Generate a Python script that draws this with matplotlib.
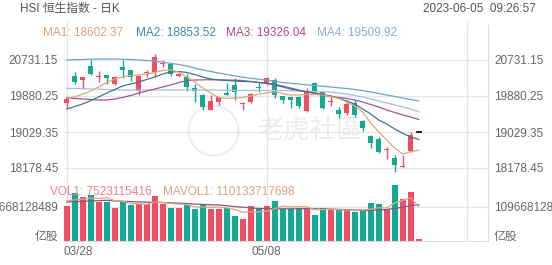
import matplotlib
matplotlib.use('Agg')
import matplotlib.pyplot as plt
import numpy as np

plt.rcParams['font.family'] = ['Liberation Sans', 'Noto Sans CJK SC']

# daily candles, 03/28 .. 06/05 (last one is the pre-open tick)
opens = [19707.7, 20353.0, 20251.3, 20582.2, 20341.1, 20369.5, 20156.8, 20565.7, 20487.7, 20005.5,
         20433.3, 20440.4, 20646.1, 20636.6, 20360.1, 20336.4, 20076.4, 19903.9, 19549.3, 19745.5,
         19958.2, 20140.2, 19700.6, 19731.3, 20081.2, 20156.8, 20258.4, 19887.3, 19863.7, 19863.7,
         19532.8, 20180.4, 19981.9, 19738.4, 19549.3, 19471.3, 19707.7, 19289.3, 18941.9, 18856.8,
         18596.8, 18407.7, 18213.9, 18587.4, 19022.3]
closes = [19809.3, 20218.2, 20322.2, 20407.3, 20353.0, 20298.6, 20329.3, 20501.9, 20336.4, 20345.9,
          20440.4, 20795.0, 20653.1, 20393.1, 20400.2, 20100.1, 20005.5, 19627.3, 19762.1, 19863.7,
          19903.9, 19967.7, 19707.7, 19920.4, 20069.3, 20312.8, 19892.1, 19785.7, 19785.7, 19643.9,
          19981.9, 20005.5, 19589.5, 19745.5, 19454.8, 19684.1, 19431.2, 19116.8, 18762.3, 18563.7,
          18603.9, 18249.4, 18230.4, 18958.4, 19022.3]
highs = [19863.7, 20440.4, 20334.1, 20731.1, 20478.2, 20375.0, 20353.0, 20731.1, 20490.0, 20360.1,
         20494.8, 20873.0, 20731.1, 20640.0, 20416.8, 20393.1, 20156.8, 19920.4, 19903.9, 19868.0,
         20180.4, 20298.6, 19731.3, 19958.2, 20218.2, 20336.4, 20298.6, 19892.0, 19868.0, 19868.0,
         20062.2, 20204.1, 20005.5, 19903.9, 19627.3, 19785.7, 19785.7, 19313.0, 18958.4, 18904.1,
         18681.9, 18485.7, 18485.7, 19022.3, 19022.3]
lows = [19589.5, 20156.8, 20038.6, 20376.6, 20218.2, 20156.8, 20133.1, 20298.6, 20234.8, 19896.8,
        20329.3, 20329.3, 20572.8, 20360.1, 20336.4, 20005.5, 19745.5, 19549.3, 19542.0, 19667.5,
        19896.8, 19785.7, 19549.3, 19724.0, 19981.9, 20140.2, 19840.1, 19707.7, 19589.5, 19589.5,
        19509.2, 19944.1, 19573.0, 19643.9, 19367.3, 19431.2, 19391.0, 19053.0, 18644.1, 18525.9,
        18384.1, 18091.0, 18206.8, 18563.7, 19022.3]
volumes = [112.9e9, 152.5e9, 139.7e9, 147.1e9, 125.7e9, 125.7e9, 106.5e9, 128.9e9, 115.1e9, 118.3e9,
           118.3e9, 143.9e9, 117.3e9, 104.6e9, 106.5e9, 115.1e9, 102.3e9, 117.3e9, 102.3e9, 102.3e9,
           104.6e9, 79.9e9, 69.4e9, 111.9e9, 102.3e9, 112.9e9, 127.9e9, 102.3e9, 102.3e9, 106.5e9,
           106.5e9, 83.1e9, 106.5e9, 102.3e9, 102.3e9, 99.1e9, 91.8e9, 99.1e9, 120.5e9, 117.3e9,
           101.4e9, 179.0e9, 133.3e9, 157.6e9, 7523115416]

# moving averages
ma1 = [19825.9, 19856.6, 19927.5, 19998.4, 20093.0, 20199.3, 20282.1, 20329.3, 20364.8, 20376.6,
       20400.2, 20435.7, 20483.0, 20494.8, 20447.5, 20329.3, 20211.1, 20069.3, 19951.2, 19844.8,
       19825.9, 19833.0, 19844.8, 19880.2, 19920.4, 19951.2, 19981.9, 19939.3, 19903.9, 19903.9,
       19915.7, 19915.7, 19903.9, 19868.4, 19821.2, 19738.4, 19643.9, 19502.1, 19242.1, 19029.3,
       18840.3, 18651.2, 18509.4, 18563.7, 18602.37]
ma2 = [19573.0, 19632.1, 19691.2, 19773.9, 19856.6, 19951.2, 20033.9, 20116.6, 20163.9, 20211.1,
       20270.2, 20329.3, 20400.2, 20447.5, 20459.3, 20435.7, 20388.4, 20329.3, 20282.1, 20258.4,
       20246.6, 20234.8, 20223.0, 20218.2, 20199.3, 20180.4, 20140.2, 20093.0, 20045.7, 20010.2,
       19981.9, 19951.2, 19915.7, 19880.2, 19825.9, 19762.1, 19691.2, 19573.0, 19454.8, 19313.0,
       19218.4, 19100.3, 18998.6, 18911.2, 18853.52]
ma3 = [19840.1, 19821.2, 19809.3, 19797.5, 19785.7, 19785.7, 19809.3, 19844.8, 19892.1, 19951.2,
       19998.4, 20045.7, 20093.0, 20140.2, 20199.3, 20246.6, 20258.0, 20262.0, 20265.0, 20262.0,
       20258.0, 20255.0, 20246.6, 20223.0, 20199.3, 20180.4, 20156.8, 20116.6, 20069.3, 20022.1,
       19974.8, 19939.3, 19903.9, 19868.4, 19844.8, 19821.2, 19785.7, 19738.4, 19679.3, 19620.2,
       19549.3, 19490.2, 19431.2, 19383.9, 19326.04]
ma4 = [20062.2, 20057.5, 20052.8, 20045.7, 20041.0, 20033.9, 20029.2, 20022.1, 20022.1, 20022.1,
       20022.1, 20022.1, 20022.1, 20022.1, 20022.1, 20022.1, 20022.1, 20022.1, 20022.1, 20017.3,
       20015.0, 20010.2, 20010.2, 20010.2, 20010.2, 20010.2, 20010.2, 20010.2, 20005.5, 19998.4,
       19993.7, 19986.6, 19981.9, 19974.8, 19951.2, 19927.5, 19892.1, 19856.6, 19809.3, 19762.1,
       19714.8, 19667.5, 19620.2, 19573.0, 19509.92]
ma5 = [20731.1, 20738.2, 20743.0, 20750.0, 20754.8, 20754.8, 20754.8, 20750.0, 20743.0, 20731.1,
       20719.3, 20700.4, 20676.8, 20653.1, 20624.8, 20589.3, 20542.1, 20494.8, 20459.3, 20423.9,
       20388.4, 20353.0, 20324.6, 20298.6, 20277.3, 20258.4, 20227.7, 20199.3, 20180.4, 20163.9,
       20145.0, 20128.4, 20109.5, 20093.0, 20074.1, 20057.5, 20033.9, 20010.2, 19974.8, 19939.3,
       19903.9, 19868.4, 19833.0, 19797.5, 19762.1]
mavol1 = [128e9, 132e9, 134e9, 137e9, 136e9, 138e9, 129e9, 127e9, 120e9, 119e9,
          117e9, 125e9, 123e9, 120e9, 118e9, 117e9, 109e9, 109e9, 108e9, 108e9,
          106e9, 101e9, 92e9, 93e9, 93e9, 96e9, 103e9, 111e9, 109e9, 110e9,
          109e9, 100e9, 101e9, 101e9, 100e9, 99e9, 98e9, 99e9, 102e9, 106e9,
          106e9, 122e9, 130e9, 138e9, 110133717698]
mavol2 = [125e9, 126e9, 127e9, 128e9, 129e9, 130e9, 128e9, 127e9, 126e9, 125e9,
          124e9, 124e9, 123e9, 122e9, 121e9, 120e9, 118e9, 117e9, 116e9, 115e9,
          113e9, 110e9, 108e9, 106e9, 104e9, 103e9, 103e9, 103e9, 103e9, 103e9,
          104e9, 103e9, 102e9, 102e9, 101e9, 100e9, 99e9, 98e9, 98e9, 99e9,
          101e9, 104e9, 108e9, 113e9, 116e9]

price_ticks = [18178.45, 19029.35, 19880.25, 20731.15]
vol_tick = 109668128489
date_idx = [0, 25, 50]
date_labels = ['03/28', '05/08', '']

RED = '#f04d65'
GREEN = '#15a893'
GRID = '#e6e6e6'
TXT = '#666666'

W, H = 552, 265
fig = plt.figure(figsize=(W / 100, H / 100), dpi=100)


def fx(px):
    return px / W


def fy(py):
    return 1 - py / H


# pixel layout
ax = fig.add_axes([fx(64), fy(175), fx(488 - 64), 150 / H])
axv = fig.add_axes([fx(64), fy(241), fx(488 - 64), 66 / H])

n = len(opens)
x = np.arange(n)
o = np.array(opens)
c = np.array(closes)
up = c >= o
cols = np.where(up, RED, GREEN)

# watermark
ax.text(fx(310), fy(130), '老虎社區', transform=fig.transFigure, fontsize=19,
        color='#ececec', ha='center', va='center', zorder=0,
        family=['Noto Sans CJK SC'])
ax.plot([18.3], [19076], marker='o', ms=36, mfc='none', mec='#ececec', mew=1.5, zorder=0)

for i in range(n):
    if highs[i] == lows[i]:
        # pre-open tick, drawn as a flat black dash
        ax.hlines(opens[i], i - 0.38, i + 0.38, color='black', lw=1.2, zorder=3)
        continue
    ax.vlines(i, lows[i], highs[i], color=cols[i], lw=1, zorder=2)
    bot = min(opens[i], closes[i])
    hgt = max(abs(closes[i] - opens[i]), 20)
    ax.bar(i, hgt, bottom=bot, width=0.68, color=cols[i], zorder=3, linewidth=0)

ax.plot(x, ma5, color='#74a3c6', lw=0.9, zorder=4)
ax.plot(x, ma4, color='#a9bde2', lw=0.9, zorder=4)
ax.plot(x, ma3, color='#a3558e', lw=0.9, zorder=4)
ax.plot(x, ma2, color='#3f7590', lw=0.9, zorder=4)
ax.plot(x, ma1, color='#dca67f', lw=0.9, zorder=4)

xlim = ((64 - 66.7) / 8, (488 - 66.7) / 8)
px_per = 2552.7 / 108
ax.set_xlim(*xlim)
ax.set_ylim(20731.15 - 115 * px_per, 20731.15 + 35 * px_per)
for t in price_ticks:
    ax.axhline(t, color=GRID, lw=1, zorder=1)
ax.set_yticks(price_ticks)
ax.set_yticklabels([f'{t:.2f}' for t in price_ticks])

# volume
vcols = np.where(up, RED, GREEN)
axv.bar(x, volumes, width=0.76, color=vcols, linewidth=0, zorder=2)
axv.plot(x, mavol2, color='#7c5c86', lw=0.9, zorder=3)
axv.plot(x, mavol1, color='#dca67f', lw=0.9, zorder=3)
axv.set_xlim(*xlim)
axv.set_ylim(0, 66 * vol_tick / 34.3)
axv.axhline(vol_tick, color=GRID, lw=1, zorder=1)
axv.set_yticks([vol_tick, 19.2e9])
axv.set_yticklabels([str(vol_tick), '亿股'])

for a in (ax, axv):
    for d in date_idx:
        a.axvline(d, color=GRID, lw=1, zorder=1)
    a.set_xticks([])
    a.tick_params(axis='y', length=0, pad=4.3, labelsize=8.5, labelcolor=TXT,
                  left=False, labelleft=True, right=False, labelright=True)
    for s in ('top', 'left', 'bottom'):
        a.spines[s].set_visible(False)
    a.spines['right'].set_color('#dddddd')
    a.patch.set_alpha(0)
axv.spines['bottom'].set_visible(True)
axv.spines['bottom'].set_color('#dddddd')
ax.set_clip_on(False)

# vertical grid lines reach up into the legend row
for d in date_idx:
    xp = 64 + (d - xlim[0]) * 8
    fig.add_artist(plt.Line2D([fx(xp), fx(xp)], [fy(25), fy(22)], color=GRID, lw=1))

# date labels
fig.text(fx(64), fy(252), date_labels[0], fontsize=8.5, color=TXT, ha='left', va='center')
fig.text(fx(66.7 + 25 * 8), fy(252), date_labels[1], fontsize=8.5, color=TXT, ha='center', va='center')

# header
fig.text(fx(20), fy(8.5), 'HSI 恒生指数 - 日K', fontsize=8.5, color='#555555', va='center')
fig.text(fx(536), fy(8.5), '2023-06-05  09:26:57', fontsize=8.5, color='#555555', va='center', ha='right')
fig.text(fx(43), fy(33.5), 'MA1: 18602.37', fontsize=8.5, color='#d9a37e', va='center')
fig.text(fx(136.5), fy(33.5), 'MA2: 18853.52', fontsize=8.5, color='#3b88a6', va='center')
fig.text(fx(226), fy(33.5), 'MA3: 19326.04', fontsize=8.5, color='#b24a83', va='center')
fig.text(fx(317.5), fy(33.5), 'MA4: 19509.92', fontsize=8.5, color='#9aa6d8', va='center')

fig.text(fx(50), fy(192), 'VOL1: 7523115416', fontsize=8.5, color='#ec7f8e', va='center', zorder=5)
fig.text(fx(163), fy(192), 'MAVOL1: 110133717698', fontsize=8.5, color='#d9a37e', va='center', zorder=5)

fig.savefig('out.png', dpi=100)
